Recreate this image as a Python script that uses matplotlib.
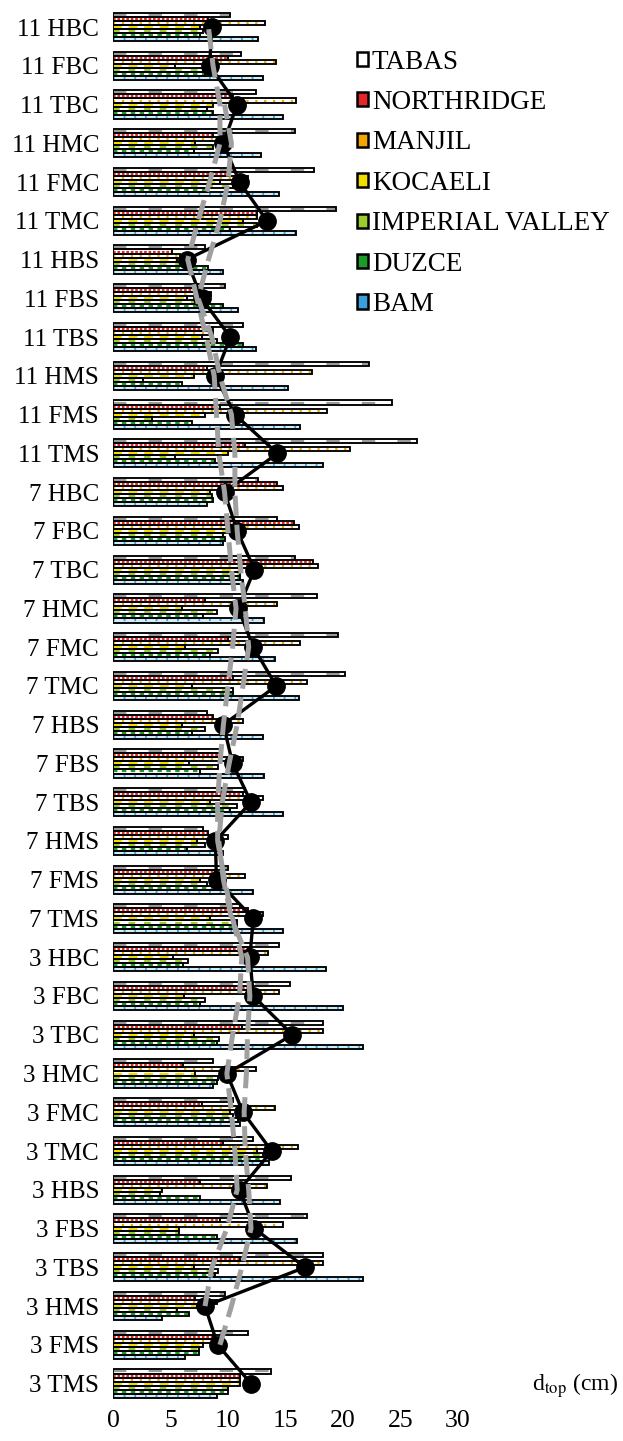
import numpy as np
import matplotlib
matplotlib.use("Agg")
import matplotlib.pyplot as plt
from matplotlib.patches import Patch

plt.rcParams['font.family'] = ['Liberation Serif', 'DejaVu Serif']
plt.rcParams['mathtext.fontset'] = 'stix'

# categories from bottom to top
categories = ['3 TMS', '3 FMS', '3 HMS', '3 TBS', '3 FBS', '3 HBS',
              '3 TMC', '3 FMC', '3 HMC', '3 TBC', '3 FBC', '3 HBC',
              '7 TMS', '7 FMS', '7 HMS', '7 TBS', '7 FBS', '7 HBS',
              '7 TMC', '7 FMC', '7 HMC', '7 TBC', '7 FBC', '7 HBC',
              '11 TMS', '11 FMS', '11 HMS', '11 TBS', '11 FBS', '11 HBS',
              '11 TMC', '11 FMC', '11 HMC', '11 TBC', '11 FBC', '11 HBC']

tabas = [13.7, 11.7, 9.7, 18.3, 16.9, 15.5, 12.2, 10.4, 8.7, 18.3, 15.4, 14.4,
         11.0, 10.0, 7.8, 11.5, 9.3, 8.2, 20.2, 19.6, 17.7, 15.8, 14.3, 12.6,
         26.4, 24.3, 22.3, 11.3, 9.7, 8.0, 19.4, 17.5, 15.8, 12.4, 11.1, 10.2]
northridge = [11.0, 8.7, 7.1, 11.0, 9.3, 7.6, 9.6, 7.7, 6.1, 11.2, 12.2, 11.7,
              11.7, 8.9, 8.3, 11.3, 9.3, 8.7, 10.4, 10.0, 8.0, 17.4, 15.7, 14.3,
              11.5, 9.3, 8.2, 8.7, 7.6, 5.1, 12.5, 10.2, 8.7, 10.4, 10.0, 8.3]
manjil = [11.0, 8.6, 9.0, 18.3, 14.8, 13.4, 16.1, 14.1, 12.4, 18.3, 14.4, 13.5,
          13.0, 11.5, 10.0, 13.0, 11.3, 11.3, 16.9, 16.3, 14.3, 17.8, 16.2, 14.8,
          20.6, 18.6, 17.3, 8.7, 8.5, 5.8, 12.5, 11.7, 9.3, 15.9, 14.2, 13.2]
kocaeli = [11.0, 7.8, 7.3, 7.0, 5.7, 4.3, 12.5, 10.2, 7.1, 7.0, 6.2, 5.2,
           8.4, 7.6, 7.3, 8.4, 6.6, 6.0, 6.9, 6.3, 6.0, 11.0, 9.9, 8.4,
           10.0, 8.0, 7.0, 7.7, 6.4, 5.6, 11.3, 9.3, 7.1, 8.7, 5.4, 7.6]
imperial = [10.0, 7.5, 5.6, 9.1, 5.7, 4.1, 13.0, 10.4, 9.1, 9.2, 8.0, 6.5,
            10.8, 8.2, 8.0, 10.8, 9.1, 8.0, 10.4, 9.1, 9.0, 11.0, 9.6, 8.6,
            5.4, 3.4, 2.6, 9.0, 7.6, 6.7, 12.5, 10.4, 8.7, 8.2, 7.8, 7.8]
duzce = [10.0, 7.5, 6.6, 8.9, 9.0, 7.6, 13.2, 10.9, 9.0, 9.0, 7.6, 6.1,
         10.8, 9.3, 6.4, 10.2, 7.6, 6.9, 10.4, 8.4, 7.8, 11.0, 9.7, 8.7,
         8.9, 6.9, 6.0, 11.3, 9.6, 8.3, 10.2, 8.2, 7.0, 8.7, 8.0, 7.6]
bam = [9.0, 6.3, 4.3, 21.7, 16.0, 14.5, 13.6, 11.0, 8.7, 21.7, 20.0, 18.5,
       14.8, 12.2, 9.6, 14.8, 13.1, 13.0, 16.2, 14.1, 13.1, 11.3, 9.6, 8.2,
       18.3, 16.3, 15.2, 12.4, 10.9, 9.6, 15.9, 14.4, 12.9, 14.8, 13.0, 12.6]

mean_line = [12.0, 9.1, 8.0, 16.7, 12.3, 11.0, 13.8, 11.3, 9.9, 15.6, 12.2, 11.9,
             12.2, 9.0, 8.9, 12.0, 10.4, 9.6, 14.2, 12.2, 10.9, 12.3, 10.8, 9.7,
             14.3, 10.6, 8.9, 10.2, 7.7, 6.4, 13.4, 11.0, 9.6, 10.8, 8.4, 8.6]

nan = np.nan
gray_a = [nan, nan, 8.0, 8.6, 9.9, 10.8, 10.6, 10.3, 9.9, 10.4, 11.0, 11.2,
          10.4, 9.7, 9.1, 9.1, 9.3, 9.6, 10.0, 10.4, 10.7, 10.3, 10.0, 9.7,
          9.2, 9.0, 8.8, 8.1, 7.3, 6.5, 7.4, 8.4, 9.3, 9.3, 8.7, 8.3]
gray_b = [nan, 9.3, 10.3, 11.2, 12.0, 11.8, 11.5, 11.4, 11.6, 11.7, 11.9, 11.7,
          10.3, 9.6, 9.2, 9.5, 10.1, 10.8, 11.3, 11.8, 11.5, 11.1, 10.8, 10.6,
          10.6, 10.3, 9.3, 8.6, 7.4, 8.3, 9.3, 10.0, 10.3, 9.7, nan, nan]

# name, values, bar face, stripe colour, stripe dash
series = [
    ('TABAS', tabas, 'white', '#9a9a9a', (6, 10)),
    ('NORTHRIDGE', northridge, 'white', '#e3262a', (1.2, 0.8)),
    ('MANJIL', manjil, 'white', '#f0a500', (1.0, 3.0)),
    ('KOCAELI', kocaeli, 'white', '#f2dc00', (4.0, 3.0)),
    ('IMPERIAL VALLEY', imperial, 'white', '#9ccc2c', (3.0, 4.0)),
    ('DUZCE', duzce, 'white', '#1d9a2a', (2.0, 2.0)),
    ('BAM', bam, '#d2ecf8', '#3a9fdc', (0.8, 4.0)),
]

fig = plt.figure(figsize=(6.23, 14.41), dpi=100)
ax = fig.add_axes([113 / 623, 0.0264, 1 - 113 / 623, 0.9683])

y = np.arange(len(categories))
h = 0.104
for k, (name, vals, face, col, dash) in enumerate(series):
    yy = y + (3 - k) * h
    ax.barh(yy, vals, height=h, color=face, edgecolor='none', zorder=2)
    ax.hlines(yy, 0, vals, colors=col, linewidth=1.6,
              linestyles=[(0, dash)], zorder=3)
    ax.barh(yy, vals, height=h, color='none', edgecolor='black',
            linewidth=1.35, zorder=3.5)

ax.plot(mean_line, y, '-o', color='black', lw=2.4, ms=12.5, zorder=5)
ax.plot(gray_a, y, color='#a0a0a0', lw=3.6, ls=(0, (4, 1.8)), zorder=6)
ax.plot(gray_b, y, color='#a0a0a0', lw=3.6, ls=(0, (4, 1.8)), zorder=6)

ax.set_ylim(-0.5, len(categories) - 0.5)
ax.set_xlim(0, 510 / 11.5)
ax.set_yticks(y)
ax.set_yticklabels(categories, fontsize=18)
ax.set_xticks(np.arange(0, 31, 5))
ax.set_xticklabels([str(v) for v in range(0, 31, 5)], fontsize=18.5)
ax.tick_params(axis='y', length=0, pad=10)
ax.tick_params(axis='x', length=0, pad=5)
for s in ax.spines.values():
    s.set_visible(False)

handles = [Patch(facecolor=col if name != 'TABAS' else 'white',
                 edgecolor='black', linewidth=1.8)
           for name, vals, face, col, dash in series]
fig.legend(handles, [s[0] for s in series], loc='upper left',
           bbox_to_anchor=(343 / 623, 1 - 36 / 1441), frameon=False,
           fontsize=19.5, handlelength=0.42, handleheight=0.42,
           handletextpad=0.15, labelspacing=0.57, borderpad=0)

fig.text(575 / 623, 1 - 1386 / 1441, r'd$_{\mathrm{top}}$ (cm)',
         fontsize=17, ha='center', va='center')

fig.savefig('out.png', dpi=100)
